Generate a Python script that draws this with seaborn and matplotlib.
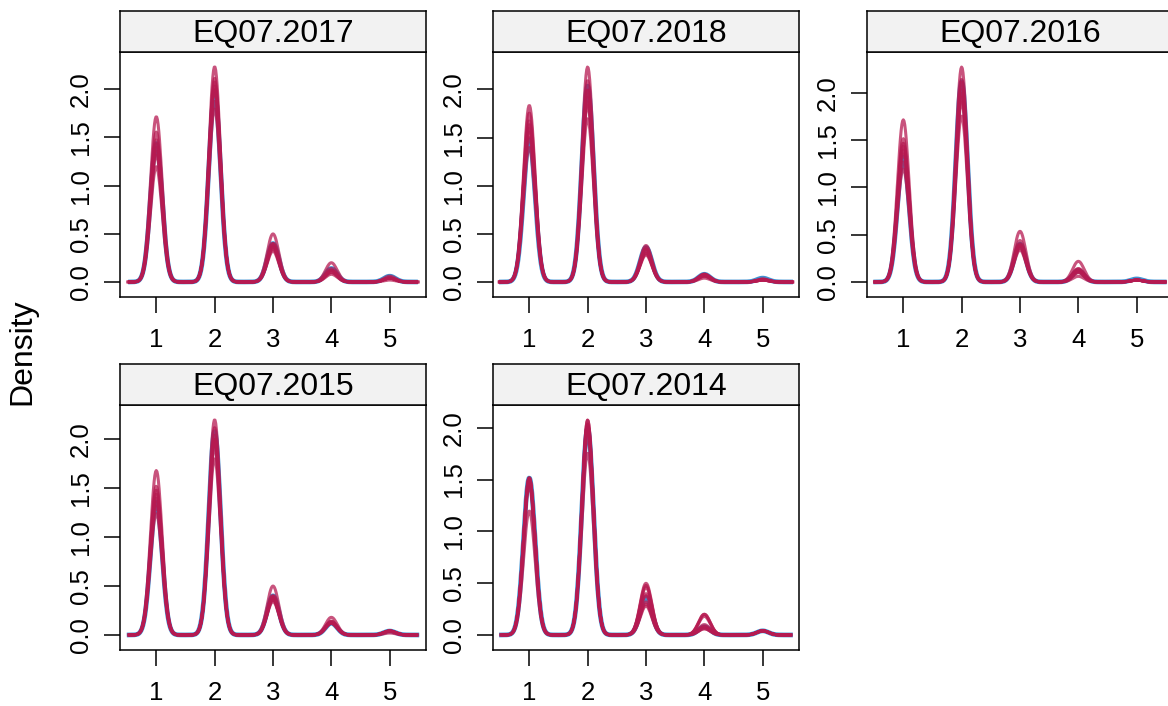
import numpy as np
import matplotlib
matplotlib.use("Agg")
import matplotlib.pyplot as plt
import seaborn as sns
from matplotlib.ticker import MultipleLocator

# response levels of the item, and % of answers per level
levels = [1, 2, 3, 4, 5]
panel_names = ["EQ07.2017", "EQ07.2018", "EQ07.2016", "EQ07.2015", "EQ07.2014"]

obs_2017 = [36, 49, 10, 3.5, 1.5]
imp_2017 = [
    [43, 45, 8.5, 2.5, 1],
    [30, 56, 9.5, 3.5, 1],
    [36, 51, 9, 3, 1],
    [33, 53, 10, 3, 1],
    [39, 47, 10, 3, 1],
    [35, 50, 12.5, 2, 0.5],
    [34, 52, 8, 5, 1],
    [37, 50, 9, 2.5, 1.5],
]

obs_2018 = [37, 51, 9, 2, 1]
imp_2018 = [
    [46, 42.5, 9, 1.8, 0.7],
    [38, 53, 7.5, 1.7, 0.8],
    [40, 50, 8, 1.5, 0.5],
    [42, 47, 8.5, 2, 0.5],
    [35, 56, 7, 1.5, 0.5],
    [44, 46, 7.5, 2, 0.5],
    [41, 48, 9.5, 1, 0.5],
    [39, 50, 8.5, 2, 0.5],
]

obs_2016 = [33, 53, 10, 3, 0.8]
imp_2016 = [
    [43, 44, 9.5, 3, 0.5],
    [30, 57, 9, 3.5, 0.5],
    [35, 50, 11, 3.5, 0.5],
    [37, 48, 13.5, 1.5, 0.5],
    [32, 54, 8.5, 5.5, 0.5],
    [38, 49, 10, 2.5, 0.5],
    [34, 53, 9.5, 3, 0.5],
    [36, 51, 10, 2.5, 0.5],
]

obs_2015 = [34, 52, 10, 3, 1]
imp_2015 = [
    [42, 45, 9, 3, 1],
    [31, 55, 9.5, 3.5, 1],
    [36, 50, 10, 3, 1],
    [34, 50, 12.5, 3, 0.5],
    [35, 51, 8.5, 4.5, 1],
    [38, 48, 10, 3, 1],
    [33, 53, 9.5, 3.5, 1],
    [37, 50, 9, 3, 1],
]

obs_2014 = [38, 50, 9, 2, 1]
imp_2014 = [
    [38, 51, 8, 2, 1],
    [30, 52, 12.5, 4.5, 1],
    [37, 48, 11.5, 2.5, 1],
    [38, 50, 9.5, 1.5, 1],
    [38, 44, 12, 5, 1],
    [36, 51, 10, 2, 1],
    [37, 50, 7, 5, 1],
    [38, 52, 7.5, 1.5, 1],
]

observed = [obs_2017, obs_2018, obs_2016, obs_2015, obs_2014]
imputed = [imp_2017, imp_2018, imp_2016, imp_2015, imp_2014]

bw = 0.1
col_obs = "#006CC2"
col_imp = "#B61A51"

plt.rcParams["font.family"] = ["Liberation Sans", "DejaVu Sans"]

W, H = 1168, 706
pw, ph, sh = 306, 245, 41
corners = [(120, 52), (493, 52), (867, 52), (120, 405), (493, 405)]

fig = plt.figure(figsize=(W / 100, H / 100), dpi=100)


def draw(ax, props, color, lw):
    w = np.asarray(props, float)
    w = w / w.sum()
    sd = np.sqrt(np.cov(levels, aweights=w))
    sns.kdeplot(x=levels, weights=w, bw_method=bw / sd, cut=3, gridsize=400,
                color=color, lw=lw, alpha=0.75, ax=ax)


for i, name in enumerate(panel_names):
    x0, y0 = corners[i]
    ax = fig.add_axes([x0 / W, 1 - (y0 + ph) / H, pw / W, ph / H])
    strip = fig.add_axes([x0 / W, 1 - y0 / H, pw / W, sh / H])

    draw(ax, observed[i], col_obs, 3.4)
    for props in imputed[i]:
        draw(ax, props, col_imp, 2.2)

    m = max(line.get_ydata().max() for line in ax.lines)
    ax.set_ylim(-0.07 * m, 1.07 * m)
    lo, hi = 1 - 3 * bw, 5 + 3 * bw
    r = hi - lo
    ax.set_xlim(lo - 0.07 * r, hi + 0.07 * r)
    ax.set_xticks(levels)
    ax.yaxis.set_major_locator(MultipleLocator(0.5))
    ax.yaxis.set_major_formatter(plt.FormatStrFormatter("%.1f"))
    ax.set_xlabel("")
    ax.set_ylabel("")
    ax.tick_params(direction="out", length=11.5, width=1.1, labelsize=18.5,
                   top=False, right=False)
    ax.tick_params(axis="x", pad=11)
    ax.tick_params(axis="y", pad=8)
    plt.setp(ax.get_yticklabels(), rotation=90, va="center")
    for sp in ax.spines.values():
        sp.set_linewidth(1.1)

    strip.set_facecolor("#f2f2f2")
    strip.set_xticks([])
    strip.set_yticks([])
    for sp in strip.spines.values():
        sp.set_linewidth(1.1)
    strip.text(0.5, 0.45, name, ha="center", va="center", fontsize=23,
               transform=strip.transAxes)

fig.text(22 / W, 1 - 352 / H, "Density", rotation=90, ha="center",
         va="center", fontsize=23)

fig.savefig("out.png", dpi=100)
